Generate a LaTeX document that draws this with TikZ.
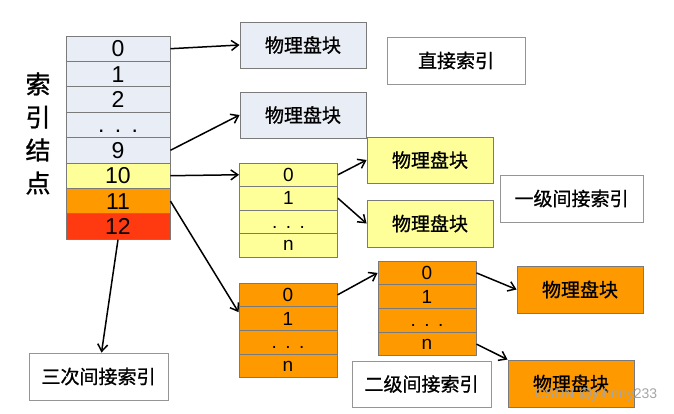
\documentclass[tikz,border=0pt]{standalone}
\usepackage{fontspec}
\setmainfont{Liberation Sans}
\newfontfamily\cjk{Noto Sans CJK SC}[FakeBold=1]
\usetikzlibrary{arrows.meta}
\definecolor{blueF}{HTML}{E9EDF5}
\definecolor{yelF}{HTML}{FFFF99}
\definecolor{orgF}{HTML}{FF9900}
\definecolor{redF}{HTML}{FF3A10}
\definecolor{bord}{HTML}{7A7A7A}
\newcommand{\dotsrow}{\vphantom{0}.\hspace{0.45em}.\hspace{0.45em}.}
\tikzset{
  cellA/.style={draw=bord, line width=0.9pt, minimum width=104pt, minimum height=25.4pt, inner sep=0pt, font=\fontsize{23}{23}\selectfont},
  cellB/.style={draw=bord, line width=0.9pt, minimum width=98pt, minimum height=23.6pt, inner sep=0pt, font=\fontsize{19}{19}\selectfont},
  blk/.style={draw=bord, line width=0.9pt, minimum width=126pt, minimum height=46pt, inner sep=0pt, font=\cjk\fontsize{19}{19}\selectfont},
  lbl/.style={draw=bord!80, fill=white, line width=0.9pt, minimum height=47pt, inner sep=0pt, font=\cjk\fontsize{19}{19}\selectfont},
  arr/.style={line width=1.5pt, -{Straight Barb[length=7pt,width=10pt,line width=1.5pt]}},
}
\begin{document}
\begin{tikzpicture}[x=1pt,y=-1pt]
\useasboundingbox[fill=white] (0,0) rectangle (674,413);
% vertical label
\node[align=center, font=\cjk\fontsize{25}{33}\selectfont] (vl) at (38,133.5) {索\\引\\结\\点};
% main index table
\node[cellA, fill=blueF] (r0) at (118,48.7) {0};
\node[cellA, fill=blueF] (r1) at (118,74.1) {1};
\node[cellA, fill=blueF] (r2) at (118,99.5) {2};
\node[cellA, fill=blueF] (r3) at (118,124.9) {\dotsrow};
\node[cellA, fill=blueF] (r9) at (118,150.3) {9};
\node[cellA, fill=yelF] (r10) at (118,175.7) {10};
\node[cellA, fill=orgF] (r11) at (118,201.1) {11};
\node[cellA, fill=redF] (r12) at (118,226.5) {12};
% direct blocks
\node[blk, fill=blueF] (A) at (303,45) {物理盘块};
\node[blk, fill=blueF] (B) at (303,115) {物理盘块};
\node[lbl, minimum width=138pt] (L0) at (456,60.5) {直接索引};
% single indirect
\node[cellB, fill=yelF] (y0) at (288.5,174.75) {0};
\node[cellB, fill=yelF] (y1) at (288.5,198.25) {1};
\node[cellB, fill=yelF] (y2) at (288.5,221.75) {\dotsrow};
\node[cellB, fill=yelF] (y3) at (288.5,245.25) {n};
\node[blk, fill=yelF] (Y1) at (430,160) {物理盘块};
\node[blk, fill=yelF, minimum height=47pt] (Y2) at (430,223.5) {物理盘块};
\node[lbl, minimum width=143pt] (L1) at (571.5,198.5) {一级间接索引};
% double indirect
\node[cellB, fill=orgF] (p0) at (288,294.9) {0};
\node[cellB, fill=orgF] (p1) at (288,318.6) {1};
\node[cellB, fill=orgF] (p2) at (288,342.4) {\dotsrow};
\node[cellB, fill=orgF] (p3) at (288,366.1) {n};
\node[cellB, fill=orgF] (q0) at (427,272.9) {0};
\node[cellB, fill=orgF] (q1) at (427,296.6) {1};
\node[cellB, fill=orgF] (q2) at (427,320.4) {\dotsrow};
\node[cellB, fill=orgF] (q3) at (427,344.1) {n};
\node[blk, fill=orgF, minimum height=47pt] (O1) at (580,289.5) {物理盘块};
\node[blk, fill=orgF, minimum height=47pt] (O2) at (571,383.5) {物理盘块};
\node[lbl, minimum width=139pt, minimum height=46pt] (L2) at (421.5,384) {二级间接索引};
% triple indirect
\node[lbl, minimum width=139pt] (L3) at (98.5,376.5) {三次间接索引};
% watermark
\node[font=\fontsize{14}{14}\selectfont, text=gray!70, inner sep=0pt] (wm) at (596,395) {CSDN @johnny233};
% arrows
\draw[arr] (r0.east) -- (A.west);
\draw[arr] (r9.east) -- (B.west);
\draw[arr] (r10.east) -- (y0.west);
\draw[arr] (r11.east) -- ([yshift=-5pt]p0.south west);
\draw[arr] (r12.south) -- ([xshift=3pt]L3.north);
\draw[arr] (y0.east) -- (Y1.west);
\draw[arr] (y1.east) -- (Y2.west);
\draw[arr] (p0.east) -- (q0.west);
\draw[arr] (q0.east) -- (O1.west);
\draw[arr] (q3.east) -- (O2.north west);
\end{tikzpicture}
\end{document}
